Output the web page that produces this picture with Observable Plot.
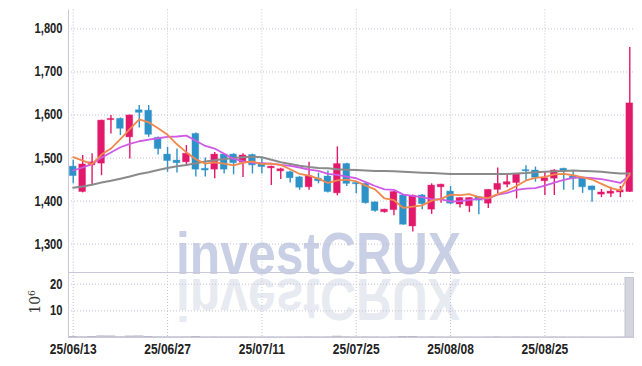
<!DOCTYPE html>
<html><head><meta charset="utf-8">
<script src="https://cdn.jsdelivr.net/npm/d3@7"></script>
<script src="https://cdn.jsdelivr.net/npm/@observablehq/plot@0.6"></script>
<style>
html,body{margin:0;padding:0;background:#fff;}
#wrap{position:relative;width:642px;height:366px;overflow:hidden;background:#fff;}
.wm{position:absolute;left:176px;font-family:"Liberation Sans",Arial,sans-serif;font-weight:bold;font-size:60px;line-height:44px;white-space:nowrap;transform-origin:0 50%;}
#vlabel{position:absolute;left:35px;top:302px;transform:translate(-50%,-50%) rotate(-90deg);font-family:"DejaVu Serif",serif;font-size:14px;color:#333;white-space:nowrap;}
#vlabel sup{font-size:9px;}
</style></head>
<body><div id="wrap">
<div class="wm" style="top:232px;color:#c9d0e5;transform:scaleX(0.83)">investCRUX</div>
<div class="wm" style="top:276.5px;color:#e8eaf1;transform:scale(0.83,-1)">investCRUX</div>
</div>
<script>
const dates = ["25/06/13","25/06/16","25/06/17","25/06/18","25/06/19","25/06/20","25/06/23","25/06/24","25/06/25","25/06/26",
"25/06/27","25/06/30","25/07/01","25/07/02","25/07/03","25/07/04","25/07/07","25/07/08","25/07/09","25/07/10",
"25/07/11","25/07/14","25/07/15","25/07/16","25/07/17","25/07/18","25/07/21","25/07/22","25/07/23","25/07/24",
"25/07/25","25/07/28","25/07/29","25/07/30","25/07/31","25/08/01","25/08/04","25/08/05","25/08/06","25/08/07",
"25/08/08","25/08/11","25/08/12","25/08/13","25/08/14","25/08/18","25/08/19","25/08/20","25/08/21","25/08/22",
"25/08/25","25/08/26","25/08/27","25/08/28","25/08/29","25/09/01","25/09/02","25/09/03","25/09/04","25/09/05"];
const open  = [1480,1421,1483,1487,1588,1591,1548,1611,1610,1547,1508,1494,1490,1556,1475,1473,1508,1508,1489,1507,
1486,1476,1469,1467,1455,1432,1452,1457,1418,1486,1442,1440,1397,1374,1379,1413,1341,1413,1380,1432,
1422,1392,1388,1409,1394,1426,1438,1442,1472,1471,1446,1452,1475,1457,1453,1434,1415,1417,1420,1421];
const high  = [1495,1506,1510,1588,1599,1593,1600,1622,1622,1549,1525,1521,1529,1558,1500,1513,1510,1510,1510,1509,
1502,1481,1476,1469,1457,1490,1465,1470,1526,1488,1443,1442,1398,1381,1422,1414,1414,1415,1440,1439,
1434,1408,1408,1410,1427,1477,1463,1463,1482,1479,1467,1473,1476,1471,1455,1435,1427,1432,1434,1757];
const low   = [1440,1419,1436,1459,1556,1552,1498,1570,1548,1507,1467,1465,1483,1456,1456,1452,1463,1461,1455,1463,
1463,1436,1450,1442,1425,1425,1440,1419,1412,1434,1417,1393,1374,1372,1366,1344,1328,1380,1369,1395,
1392,1384,1373,1368,1383,1417,1431,1405,1448,1444,1413,1413,1425,1425,1418,1397,1408,1408,1408,1420];
const close = [1458,1485,1490,1587,1591,1568,1599,1605,1554,1521,1493,1488,1510,1473,1471,1508,1473,1488,1506,1483,
1479,1480,1474,1453,1431,1458,1446,1421,1486,1440,1439,1395,1377,1380,1421,1345,1412,1393,1436,1438,
1394,1407,1407,1401,1426,1440,1444,1462,1469,1454,1453,1471,1469,1452,1432,1425,1420,1422,1425,1627];
const volume = [0.15,0.12,0.14,0.45,0.42,0.13,0.40,0.44,0.15,0.12,0.10,0.09,0.11,0.14,0.08,0.10,0.09,0.08,0.10,0.08,
0.07,0.08,0.06,0.07,0.09,0.10,0.07,0.10,0.35,0.12,0.08,0.10,0.09,0.05,0.10,0.15,0.14,0.09,0.12,0.08,
0.07,0.06,0.07,0.06,0.08,0.12,0.07,0.10,0.08,0.07,0.06,0.08,0.07,0.06,0.07,0.06,0.05,0.05,0.06,22.3];
const ma5  = [1502,1494,1486,1508,1522,1544,1567,1590,1583,1569,1554,1532,1513,1497,1487,1490,1487,1483,1489,1492,
1486,1487,1484,1474,1463,1459,1452,1442,1448,1450,1446,1436,1427,1406,1402,1384,1387,1390,1401,1405,
1415,1414,1416,1409,1407,1416,1424,1435,1448,1454,1456,1462,1463,1460,1455,1450,1440,1430,1425,1464];
const ma10 = [1471,1478,1486,1501,1513,1525,1533,1539,1543,1546,1549,1550,1552,1540,1528,1522,1510,1498,1493,1489,
1488,1487,1484,1482,1478,1473,1470,1463,1461,1457,1453,1444,1435,1427,1426,1415,1412,1409,1404,1404,
1399,1400,1403,1405,1406,1415,1419,1426,1429,1430,1436,1443,1449,1454,1455,1453,1451,1447,1442,1460];
const ma60 = [1431,1434,1438,1443,1447,1452,1457,1463,1467,1472,1477,1481,1484,1488,1492,1495,1498,1500,1502,1503,
1502,1496,1490,1486,1482,1479,1477,1476,1474,1473,1472,1471,1470,1470,1469,1468,1467,1466,1465,1464,
1463,1463,1463,1463,1463,1463,1463,1464,1465,1467,1468,1469,1470,1471,1470,1469,1468,1466,1464,1464];
const priceTicks = [1300,1400,1500,1600,1700,1800];
const volTicks = [10,20];
const xTickIdx = [0,10,20,30,40,50];

const FONT = '"Liberation Sans",Arial,sans-serif';
const GRID = "#c2c2d6", FRAME = "#c9c9da", UP = "#e2196b", DOWN = "#2d92c8";
const rows = dates.map((d, i) => ({i, o: open[i], h: high[i], l: low[i], c: close[i], v: volume[i], m5: ma5[i], m10: ma10[i], m60: ma60[i]}));
const col = d => d.c >= d.o ? UP : DOWN;
const grid = {stroke: GRID, strokeDasharray: "1,2", strokeWidth: 1};

const price = Plot.plot({
  width: 642, height: 272, marginLeft: 68, marginRight: 8, marginTop: 9.5, marginBottom: 0,
  style: {background: "transparent", overflow: "visible"},
  x: {domain: [-0.5, 59.5], axis: null},
  y: {domain: [1234, 1844], axis: null},
  color: {type: "identity"},
  marks: [
    Plot.ruleY(priceTicks, grid),
    Plot.ruleX(xTickIdx, grid),
    Plot.ruleX([-0.5], {stroke: FRAME}),
    Plot.ruleY([1234], {stroke: FRAME}),
    Plot.ruleX(rows, {x: "i", y1: "l", y2: "h", stroke: col, strokeWidth: 1.4}),
    Plot.rect(rows, {x1: d => d.i - 0.36, x2: d => d.i + 0.36, y1: "o", y2: "c", fill: col, stroke: col, strokeOpacity: 0.35, strokeWidth: 1}),
    Plot.line(rows, {x: "i", y: "m60", stroke: "#8a8a8a", strokeWidth: 2}),
    Plot.line(rows, {x: "i", y: "m10", stroke: "#cf5ae5", strokeWidth: 1.8}),
    Plot.line(rows, {x: "i", y: "m5", stroke: "#f0894c", strokeWidth: 1.8}),
    Plot.text(priceTicks, {x: -0.5, y: d => d, text: d => d3.format(",")(d), textAnchor: "end", dx: -6, fontSize: 14, fontFamily: FONT, fontWeight: "bold", fill: "#222"})
  ]
});

const vol = Plot.plot({
  width: 642, height: 94, marginLeft: 68, marginRight: 8, marginTop: 0, marginBottom: 29,
  style: {background: "transparent", overflow: "visible"},
  x: {domain: [-0.5, 59.5], axis: null},
  y: {domain: [0, 24.4], axis: null},
  marks: [
    Plot.ruleY(volTicks, grid),
    Plot.ruleX(xTickIdx, grid),
    Plot.rect(rows, {x1: d => d.i - 0.46, x2: d => d.i + 0.46, y1: 0, y2: "v", fill: "#d5d5de", stroke: "#b9b9c8", strokeWidth: 0.7}),
    Plot.ruleX([-0.5], {stroke: FRAME}),
    Plot.ruleY([0], {stroke: FRAME}),
    Plot.text(volTicks, {x: -0.5, y: d => d, text: d => String(d), textAnchor: "end", dx: -6, fontSize: 14, fontFamily: FONT, fontWeight: "bold", fill: "#222"}),
    Plot.text(xTickIdx, {x: d => d, y: 0, text: d => dates[d], dy: 12, fontSize: 15, fontFamily: FONT, fontWeight: "bold", fill: "#222"})
  ]
});

const wrap = document.getElementById("wrap");
price.style.position = "absolute"; price.style.left = "0px"; price.style.top = "0px";
vol.style.position = "absolute"; vol.style.left = "0px"; vol.style.top = "272px";
wrap.appendChild(price);
wrap.appendChild(vol);
const vl = document.createElement("div");
vl.id = "vlabel";
vl.innerHTML = "10<sup>6</sup>";
wrap.appendChild(vl);

// condense tick labels horizontally (narrow font look)
function squeeze(svg, s) {
  svg.querySelectorAll("text").forEach(t => {
    const b = t.getBBox();
    const anchor = getComputedStyle(t).textAnchor;
    const ax = anchor === "end" ? b.x + b.width : anchor === "start" ? b.x : b.x + b.width / 2;
    const prev = t.getAttribute("transform") || "";
    t.setAttribute("transform", `${prev} translate(${ax},0) scale(${s},1) translate(${-ax},0)`);
  });
}
squeeze(price, 0.8);
squeeze(vol, 0.8);
</script>
</body></html>
